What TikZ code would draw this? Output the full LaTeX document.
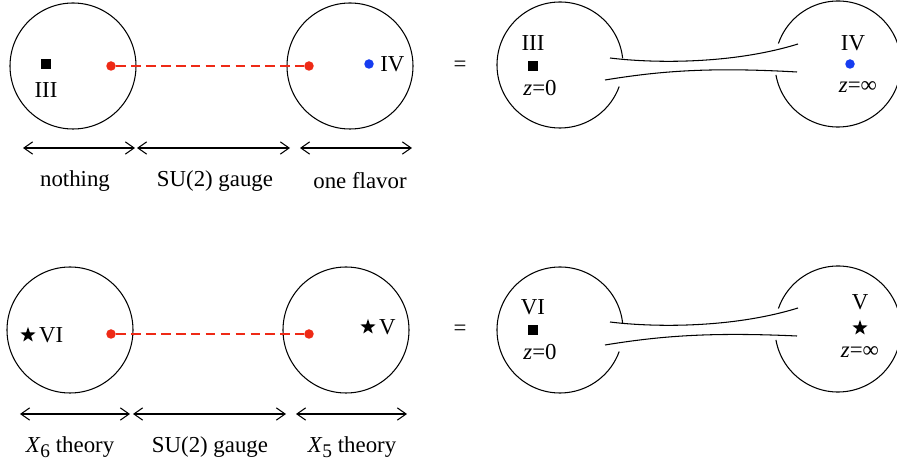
\documentclass[tikz,border=0pt]{standalone}
\usepackage{fontspec}
\setmainfont{Liberation Serif}
\usetikzlibrary{positioning,shapes.geometric,arrows.meta}
\definecolor{dotred}{RGB}{238,42,22}
\definecolor{dotblue}{RGB}{22,60,240}
\newcommand{\lowsub}[1]{\raisebox{-0.5ex}{\fontsize{11}{11}\selectfont #1}}

\begin{document}
\begin{tikzpicture}[
    every node/.style={font=\fontsize{13}{15}\selectfont},
    disk/.style={draw, circle, line width=0.6pt, minimum size=2.52cm, inner sep=0pt},
    rdot/.style={circle, fill=dotred, inner sep=0pt, minimum size=0.19cm},
    bdot/.style={circle, fill=dotblue, inner sep=0pt, minimum size=0.19cm},
    sqr/.style={rectangle, fill=black, inner sep=0pt, minimum size=0.2cm},
    starmark/.style={star, star points=5, star point ratio=2.5, fill=black, inner sep=0pt, minimum size=0.32cm},
    gauge/.style={dotred, dash pattern=on 5.5pt off 3pt, line width=1.1pt},
    spanarr/.style={<->, line width=0.6pt},
    tube/.style={line width=0.6pt},
    >={Straight Barb[length=5pt,width=7pt]}
]
    \useasboundingbox (0,0) rectangle (17.94,-9.36);

    % Top row, left picture
    \node[disk] (c1) at (1.46,-1.32) {};
    \node[disk] (c2) at (7.0,-1.32) {};
    \node[sqr] (sq1) at (0.92,-1.28) {};
    \node (l3) at (0.92,-1.8) {III};
    \node[rdot] (rd1) at (2.22,-1.32) {};
    \node[rdot] (rd2) at (6.18,-1.32) {};
    \node[bdot] (bd1) at (7.38,-1.28) {};
    \node[right=0pt of bd1] (l4) {IV};
    \draw[gauge] (rd1) -- (rd2);

    % Top row, spans
    \coordinate (a1) at (0.46,-2.96);
    \coordinate (a2) at (2.70,-2.96);
    \coordinate (a3) at (2.74,-2.96);
    \coordinate (a4) at (5.80,-2.96);
    \coordinate (a5) at (6.00,-2.96);
    \coordinate (a6) at (8.24,-2.96);
    \draw[spanarr] (a1) -- (a2);
    \draw[spanarr] (a3) -- (a4);
    \draw[spanarr] (a5) -- (a6);
    \node (s1) at (1.5,-3.62) {nothing};
    \node (s2) at (4.3,-3.62) {SU(2) gauge};
    \node (s3) at (7.2,-3.62) {one flavor};

    \node (eq1) at (9.2,-1.32) {=};

    % Top row, right picture
    \coordinate (cl1) at (11.2,-1.3);
    \coordinate (cr1) at (16.76,-1.28);
    \draw[tube] ([shift={(6:1.26)}]cl1) arc[start angle=6, end angle=340, radius=1.26];
    \draw[tube] ([shift={(190:1.26)}]cr1) arc[start angle=190, end angle=521, radius=1.26];
    \coordinate (t1a) at (12.2,-1.16);
    \coordinate (t1b) at (15.96,-0.88);
    \coordinate (t1c) at (12.1,-1.6);
    \coordinate (t1d) at (15.94,-1.44);
    \draw[tube] (t1a) .. controls (13.0,-1.26) and (14.6,-1.3) .. (t1b);
    \draw[tube] (t1c) .. controls (13.2,-1.42) and (14.2,-1.34) .. (t1d);
    \node (r3) at (10.66,-0.86) {III};
    \node[sqr] (sq2) at (10.66,-1.32) {};
    \node (z1) at (10.8,-1.76) {\textit{z}=0};
    \node (r4) at (17.06,-0.86) {IV};
    \node[bdot] (bd2) at (17.0,-1.28) {};
    \node (z2) at (17.16,-1.74) {\textit{z}=∞};

    % Bottom row, left picture
    \node[disk] (c3) at (1.4,-6.6) {};
    \node[disk] (c4) at (6.92,-6.6) {};
    \node[starmark] (st1) at (0.56,-6.7) {};
    \node[right=0pt of st1] (l6) {VI};
    \node[rdot] (rd3) at (2.22,-6.68) {};
    \node[rdot] (rd4) at (6.18,-6.68) {};
    \node[starmark] (st2) at (7.36,-6.54) {};
    \node[right=0pt of st2] (l5) {V};
    \draw[gauge] (rd3) -- (rd4);

    % Bottom row, spans
    \coordinate (b1) at (0.40,-8.28);
    \coordinate (b2) at (2.60,-8.28);
    \coordinate (b3) at (2.66,-8.28);
    \coordinate (b4) at (5.72,-8.28);
    \coordinate (b5) at (5.92,-8.28);
    \coordinate (b6) at (8.14,-8.28);
    \draw[spanarr] (b1) -- (b2);
    \draw[spanarr] (b3) -- (b4);
    \draw[spanarr] (b5) -- (b6);
    \node (s4) at (1.4,-8.94) {\textit{X}\lowsub{6} theory};
    \node (s5) at (4.2,-8.94) {SU(2) gauge};
    \node (s6) at (7.04,-8.94) {\textit{X}\lowsub{5} theory};

    \node (eq2) at (9.2,-6.6) {=};

    % Bottom row, right picture
    \coordinate (cl2) at (11.2,-6.6);
    \coordinate (cr2) at (16.76,-6.58);
    \draw[tube] ([shift={(6:1.26)}]cl2) arc[start angle=6, end angle=340, radius=1.26];
    \draw[tube] ([shift={(190:1.26)}]cr2) arc[start angle=190, end angle=521, radius=1.26];
    \coordinate (t2a) at (12.2,-6.44);
    \coordinate (t2b) at (15.96,-6.16);
    \coordinate (t2c) at (12.1,-6.9);
    \coordinate (t2d) at (15.94,-6.72);
    \draw[tube] (t2a) .. controls (13.0,-6.54) and (14.6,-6.58) .. (t2b);
    \draw[tube] (t2c) .. controls (13.2,-6.72) and (14.2,-6.64) .. (t2d);
    \node (r6) at (10.66,-6.14) {VI};
    \node[sqr] (sq3) at (10.66,-6.6) {};
    \node (z3) at (10.8,-7.04) {\textit{z}=0};
    \node (r5) at (17.2,-6.04) {V};
    \node[starmark] (st3) at (17.2,-6.56) {};
    \node (z4) at (17.2,-7.04) {\textit{z}=∞};
\end{tikzpicture}
\end{document}
